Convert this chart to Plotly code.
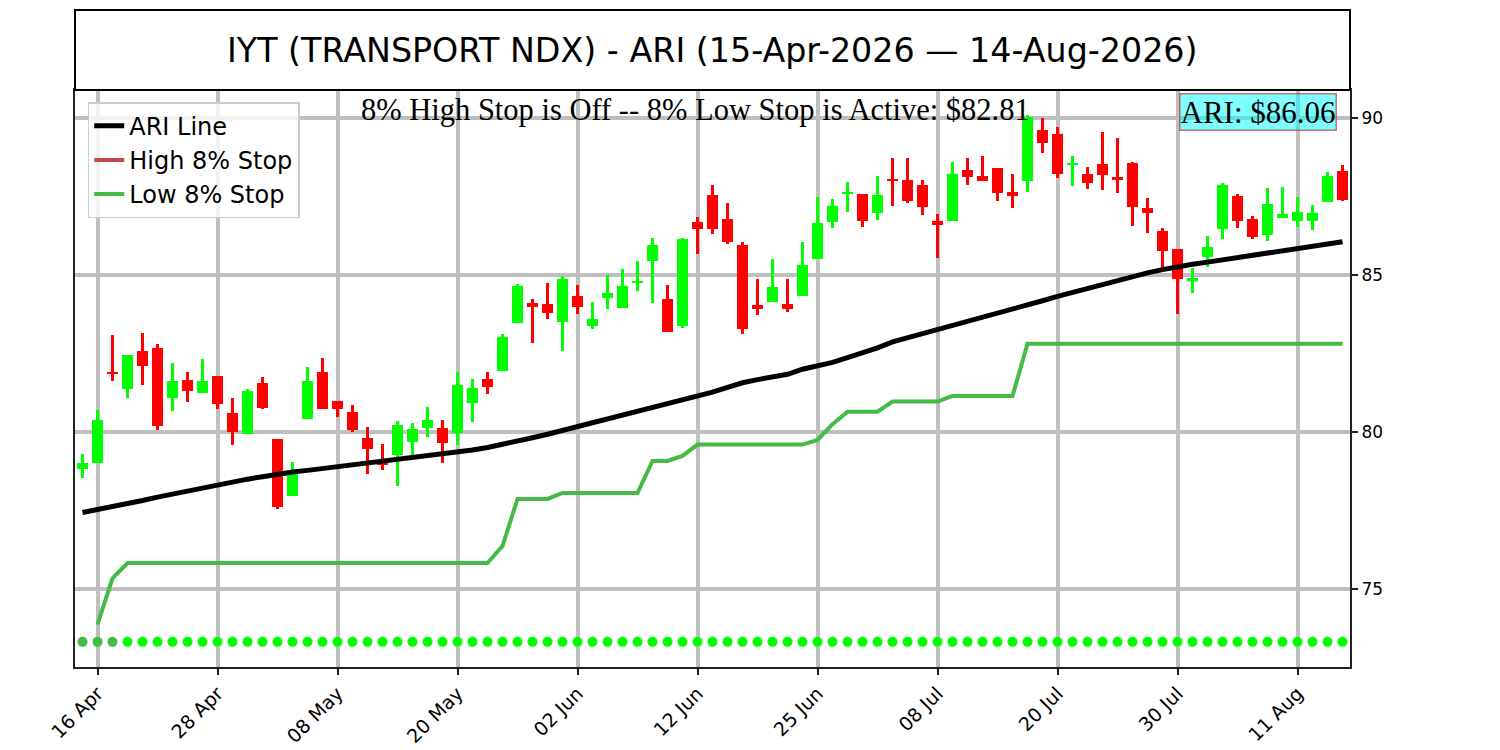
import pandas as pd
import plotly.graph_objects as go

# trading calendar 15-Apr-2026 .. 14-Aug-2026 (US market holidays removed)
HOLIDAYS = ["2026-05-25", "2026-06-19", "2026-07-03"]
dates = pd.bdate_range("2026-04-15", "2026-08-14", freq="C", holidays=HOLIDAYS)

opens = [78.81, 79.02, 81.92, 81.36, 82.58, 82.68, 81.09, 81.65, 81.25, 81.78,
         80.60, 79.93, 81.56, 79.78, 77.97, 80.40, 81.91, 80.99, 80.63, 79.81,
         79.06, 79.26, 79.69, 80.14, 80.13, 79.96, 80.91, 81.69, 81.95, 83.48,
         84.11, 84.07, 83.51, 84.33, 83.39, 84.28, 83.94, 84.75, 85.44, 84.24,
         83.39, 86.70, 87.55, 86.78, 85.96, 84.05, 84.15, 84.08, 84.32, 85.52,
         86.70, 87.59, 87.58, 86.98, 88.06, 88.03, 87.87, 86.71, 86.73, 88.34,
         88.15, 88.40, 87.64, 88.00, 89.62, 89.49, 88.51, 88.22, 88.54, 88.13,
         88.58, 87.12, 86.41, 85.82, 84.84, 85.58, 86.47, 87.50, 86.78, 86.26,
         86.82, 86.73, 86.73, 87.33, 88.30]
highs = [79.30, 80.70, 83.09, 82.45, 83.15, 82.80, 82.20, 81.91, 82.32, 81.78,
         81.08, 81.37, 81.75, 79.78, 79.04, 82.07, 82.35, 80.99, 80.85, 80.16,
         79.62, 80.35, 80.29, 80.80, 80.38, 81.91, 81.69, 81.91, 83.12, 84.71,
         84.24, 84.75, 84.97, 84.68, 84.14, 85.00, 85.19, 85.45, 86.17, 84.68,
         86.17, 86.84, 87.88, 87.30, 86.05, 84.87, 85.51, 84.87, 86.05, 87.47,
         87.42, 87.96, 87.58, 88.15, 88.73, 88.73, 88.03, 86.94, 88.60, 88.73,
         88.79, 88.40, 88.22, 90.10, 90.00, 89.72, 88.79, 88.43, 89.55, 89.35,
         88.60, 87.45, 86.50, 85.82, 85.21, 86.24, 87.93, 87.58, 86.88, 87.77,
         87.80, 87.47, 87.23, 88.28, 88.50]
lows = [78.55, 79.02, 81.63, 81.09, 81.51, 80.07, 80.67, 80.97, 81.25, 80.74,
        79.60, 79.93, 80.74, 77.54, 77.97, 80.40, 80.73, 80.47, 79.99, 78.65,
        78.80, 78.29, 79.25, 79.83, 79.01, 79.59, 80.32, 81.22, 81.95, 83.48,
        82.84, 83.61, 82.58, 83.77, 83.28, 83.93, 83.94, 84.50, 84.12, 83.19,
        83.32, 85.68, 86.32, 86.00, 83.13, 83.74, 84.15, 83.83, 84.32, 85.52,
        86.51, 87.02, 86.54, 86.76, 87.21, 87.28, 86.92, 85.55, 86.73, 87.88,
        88.00, 87.37, 87.12, 87.65, 88.88, 88.10, 87.84, 87.74, 87.72, 87.60,
        86.57, 86.35, 85.18, 83.77, 84.44, 85.26, 86.16, 86.51, 86.16, 86.09,
        86.82, 86.54, 86.43, 87.33, 87.37]
closes = [79.03, 80.38, 81.87, 82.45, 82.11, 80.20, 81.62, 81.32, 81.62, 80.88,
          79.99, 81.32, 80.77, 77.61, 78.68, 81.62, 80.73, 80.75, 80.06, 79.47,
          78.96, 80.21, 80.10, 80.38, 79.66, 81.50, 81.39, 81.42, 83.03, 84.65,
          83.97, 83.78, 84.87, 83.97, 83.60, 84.43, 84.65, 84.81, 85.95, 83.19,
          86.14, 86.47, 86.47, 86.05, 83.28, 83.92, 84.62, 83.93, 85.32, 86.66,
          87.20, 87.64, 86.73, 87.55, 87.98, 87.36, 87.16, 86.58, 88.22, 88.11,
          88.00, 87.60, 87.52, 90.04, 89.19, 88.22, 88.58, 87.94, 88.18, 88.03,
          87.16, 86.96, 85.75, 84.86, 84.90, 85.90, 87.88, 86.73, 86.21, 87.26,
          86.93, 87.01, 86.96, 88.15, 87.39]
ari = [77.44, 77.53, 77.61, 77.71, 77.82, 77.93, 78.03, 78.13, 78.23, 78.33,
       78.42, 78.50, 78.58, 78.66, 78.73, 78.78, 78.84, 78.90, 78.96, 79.02,
       79.08, 79.13, 79.18, 79.23, 79.29, 79.36, 79.43, 79.51, 79.60, 79.71,
       79.82, 79.93, 80.05, 80.16, 80.28, 80.40, 80.52, 80.64, 80.76, 80.88,
       80.99, 81.11, 81.27, 81.42, 81.57, 81.67, 81.76, 81.84, 82.00, 82.09,
       82.22, 82.37, 82.52, 82.68, 82.87, 83.00, 83.13, 83.26, 83.38, 83.50,
       83.62, 83.75, 83.89, 84.04, 84.18, 84.32, 84.45, 84.57, 84.70, 84.82,
       84.95, 85.07, 85.17, 85.27, 85.34, 85.41, 85.48, 85.55, 85.62, 85.69,
       85.76, 85.84, 85.91, 85.99, 86.06]
low_stop = [None, 73.88, 75.34, 75.83, 75.83, 75.83, 75.83, 75.83, 75.83, 75.83,
            75.83, 75.83, 75.83, 75.83, 75.83, 75.83, 75.83, 75.83, 75.83, 75.83,
            75.83, 75.83, 75.83, 75.83, 75.83, 75.83, 75.83, 75.83, 76.37, 77.87,
            77.87, 77.87, 78.06, 78.06, 78.06, 78.06, 78.06, 78.06, 79.08, 79.08,
            79.24, 79.60, 79.60, 79.60, 79.60, 79.60, 79.60, 79.60, 79.60, 79.75,
            80.25, 80.65, 80.65, 80.65, 80.97, 80.97, 80.97, 80.97, 81.15, 81.15,
            81.15, 81.15, 81.15, 82.81, 82.81, 82.81, 82.81, 82.81, 82.81, 82.81,
            82.81, 82.81, 82.81, 82.81, 82.81, 82.81, 82.81, 82.81, 82.81, 82.81,
            82.81, 82.81, 82.81, 82.81, 82.81]
DOT_LEVEL = 73.32
WARMUP = 3  # first days drawn with the dim dot colour

UP, DOWN = "#00ff00", "#ff0000"
GRID = "#bfbfbf"

n = len(closes)
xs = list(range(n))
cols = [UP if c >= o else DOWN for o, c in zip(opens, closes)]
tick_idx = list(range(1, n, 8))
tick_txt = [dates[i].strftime("%d %b") for i in tick_idx]

fig = go.Figure()

# wicks + bodies as overlaid bars
fig.add_trace(go.Bar(x=xs, base=lows, y=[h - l for h, l in zip(highs, lows)],
                     width=0.2, marker=dict(color=cols, line=dict(width=0)),
                     showlegend=False, hoverinfo="skip"))
fig.add_trace(go.Bar(x=xs, base=[min(o, c) for o, c in zip(opens, closes)],
                     y=[max(abs(c - o), 0.05) for o, c in zip(opens, closes)],
                     width=0.72, marker=dict(color=cols, line=dict(width=0)),
                     showlegend=False, hoverinfo="skip"))

dot_cols = ["#44bb44"] * WARMUP + [UP] * (n - WARMUP)
fig.add_trace(go.Scatter(x=xs, y=[DOT_LEVEL] * n, mode="markers",
                         marker=dict(size=10, color=dot_cols), showlegend=False,
                         hoverinfo="skip"))

fig.add_trace(go.Scatter(x=xs, y=low_stop, mode="lines", name="Low 8% Stop",
                         line=dict(color="#44bb44", width=4), legendrank=3))
fig.add_trace(go.Scatter(x=xs, y=ari, mode="lines", name="ARI Line",
                         line=dict(color="black", width=5), legendrank=1))
fig.add_trace(go.Scatter(x=[None], y=[None], mode="lines", name="High 8% Stop",
                         line=dict(color="#c94444", width=4), legendrank=2))

# title box above the axes
box_top = 1 + 80 / 577
fig.add_shape(type="rect", xref="paper", yref="paper", x0=0, x1=1, y0=1, y1=box_top,
              line=dict(color="black", width=2), fillcolor="white", layer="above")
fig.add_annotation(xref="paper", yref="paper", x=0.5, y=(1 + box_top) / 2,
                   text="IYT (TRANSPORT NDX) - ARI (15-Apr-2026 — 14-Aug-2026)",
                   showarrow=False, xanchor="center", yanchor="middle",
                   font=dict(family="DejaVu Sans", size=33.3, color="black"))
fig.add_annotation(xref="paper", yref="paper", x=0.487, y=0.999,
                   text=f"8% High Stop is Off -- 8% Low Stop is Active: ${low_stop[-1]:.2f}",
                   showarrow=False, xanchor="center", yanchor="top",
                   font=dict(family="Liberation Serif", size=30.5, color="black"))
fig.add_annotation(xref="paper", yref="paper", x=0.99, y=0.994,
                   text=f"ARI: ${ari[-1]:.2f}", showarrow=False,
                   xanchor="right", yanchor="top",
                   bgcolor="rgba(0,255,255,0.5)", bordercolor="rgba(190,60,60,0.7)",
                   borderwidth=1.5, borderpad=0,
                   font=dict(family="Liberation Serif", size=31, color="black"))

fig.update_xaxes(range=[-0.5, n - 0.5], tickvals=tick_idx, ticktext=tick_txt,
                 tickangle=-45, ticks="outside", ticklen=6, tickwidth=2, tickcolor="#222",
                 showgrid=True, gridcolor=GRID, gridwidth=4, zeroline=False,
                 showline=True, linecolor="#222", linewidth=2, mirror=True,
                 automargin=False,
                 tickfont=dict(family="DejaVu Sans", size=19, color="black"))
fig.update_yaxes(range=[72.52, 90.89], tickvals=[75, 80, 85, 90], side="right",
                 ticks="outside", ticklen=6, tickwidth=2, tickcolor="#222",
                 showgrid=True, gridcolor=GRID, gridwidth=4, zeroline=False,
                 showline=True, linecolor="#222", linewidth=2, mirror=True,
                 automargin=False,
                 tickfont=dict(family="DejaVu Sans", size=17, color="black"))

# page body adds an 8px margin, so the figure is sized/margined to compensate
fig.update_layout(
    width=1492, height=742,
    margin=dict(l=67, r=150, t=82, b=83),
    paper_bgcolor="white", plot_bgcolor="white",
    barmode="overlay", bargap=0,
    showlegend=True,
    legend=dict(x=0.01, y=0.979, xanchor="left", yanchor="top",
                bgcolor="rgba(255,255,255,0.8)", bordercolor="#cccccc", borderwidth=1.5,
                font=dict(family="DejaVu Sans", size=24, color="black"),
                tracegroupgap=0, itemwidth=30),
    hovermode=False,
)

fig.write_html("out.html")
